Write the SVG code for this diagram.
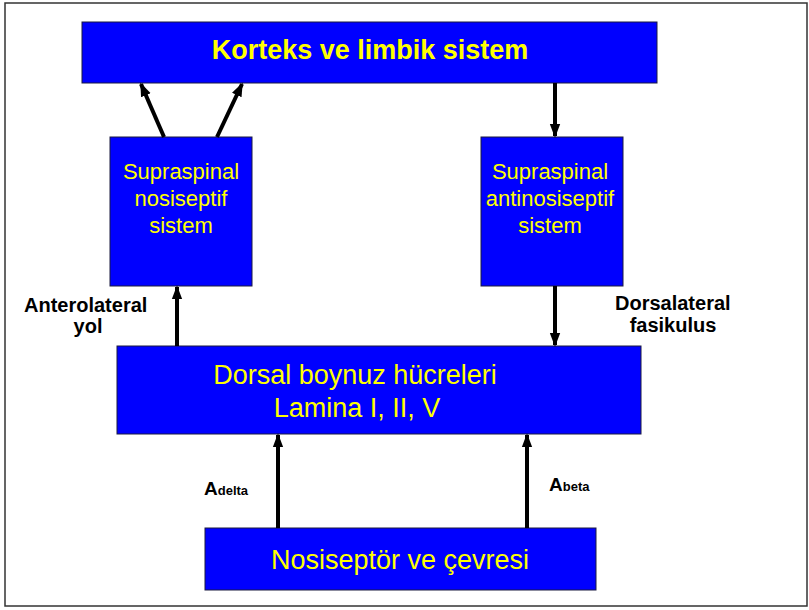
<svg xmlns="http://www.w3.org/2000/svg" width="809" height="610" viewBox="0 0 809 610">
<style>
.box{fill:#0000FF;stroke:#1a1a40;stroke-width:1}
.t{font-family:"Liberation Sans",Arial,sans-serif;fill:#FFFF00;text-anchor:middle}
.lb{font-family:"Liberation Sans",Arial,sans-serif;fill:#000;font-weight:bold}
.c{stroke:#000;stroke-width:4;fill:none;marker-end:url(#ah)}
</style>
<defs>
<marker id="ah" markerUnits="userSpaceOnUse" markerWidth="14" markerHeight="16" refX="14" refY="6" orient="auto" viewBox="0 0 16 12">
<path d="M0,0 L16,6 L0,12 Z" fill="#000"/>
</marker>
</defs>
<rect x="0" y="0" width="809" height="610" fill="#fff"/>
<rect x="5" y="3" width="802" height="603" fill="none" stroke="#333" stroke-width="1.5"/>
<g id="korteks">
<rect class="box" x="82" y="22" width="575" height="61"/>
<text class="t" x="370" y="59" font-size="27" font-weight="bold">Korteks ve limbik sistem</text>
</g>
<g id="supra-nos">
<rect class="box" x="110" y="137" width="142" height="149"/>
<text class="t" x="181" y="179" font-size="22">Supraspinal</text>
<text class="t" x="181" y="206" font-size="22">nosiseptif</text>
<text class="t" x="181" y="233" font-size="22">sistem</text>
</g>
<g id="supra-antinos">
<rect class="box" x="481" y="137" width="142" height="149"/>
<text class="t" x="550" y="179" font-size="22">Supraspinal</text>
<text class="t" x="550" y="206" font-size="22">antinosiseptif</text>
<text class="t" x="550" y="233" font-size="22">sistem</text>
</g>
<g id="dorsal">
<rect class="box" x="117" y="346" width="524" height="88"/>
<text class="t" x="355" y="384" font-size="27">Dorsal boynuz hücreleri</text>
<text class="t" x="357" y="417" font-size="27">Lamina I, II, V</text>
</g>
<g id="nosiseptor">
<rect class="box" x="205" y="528" width="391" height="62"/>
<text class="t" x="400" y="569" font-size="27">Nosiseptör ve çevresi</text>
</g>
<g id="connectors">
<line class="c" x1="164" y1="137" x2="141" y2="84"/>
<line class="c" x1="217" y1="137" x2="242" y2="84"/>
<line class="c" x1="555" y1="83" x2="555" y2="136"/>
<line class="c" x1="177" y1="346" x2="177" y2="287"/>
<line class="c" x1="555" y1="286" x2="555" y2="345"/>
<line class="c" x1="278" y1="528" x2="278" y2="435"/>
<line class="c" x1="527" y1="528" x2="527" y2="435"/>
</g>
<g id="labels">
<text class="lb" x="24" y="312" font-size="20">Anterolateral</text>
<text class="lb" x="88" y="333" font-size="20" text-anchor="middle">yol</text>
<text class="lb" x="615" y="310" font-size="20">Dorsalateral</text>
<text class="lb" x="673" y="332" font-size="20" text-anchor="middle">fasikulus</text>
<text class="lb" x="204" y="495" font-size="19">A<tspan font-size="13">delta</tspan></text>
<text class="lb" x="549" y="491" font-size="19">A<tspan font-size="13">beta</tspan></text>
</g>
</svg>
